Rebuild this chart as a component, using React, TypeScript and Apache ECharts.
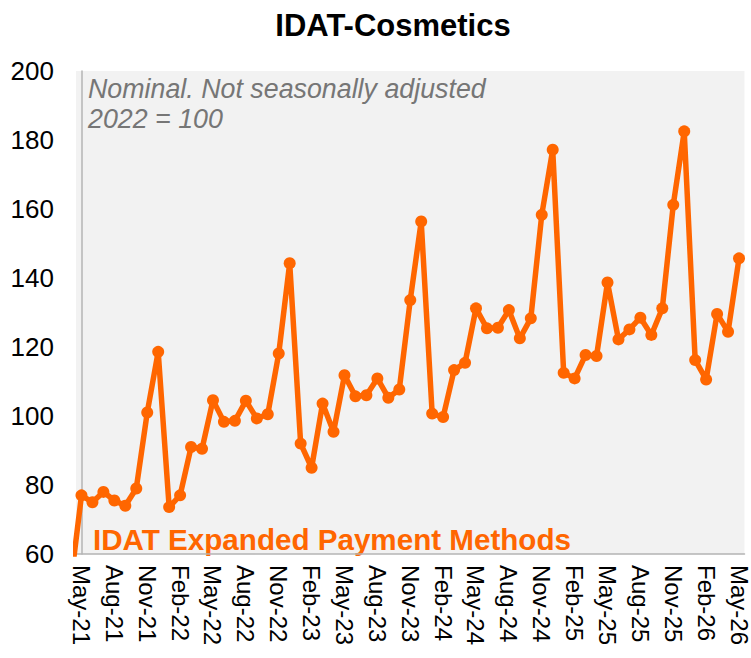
import React, { useEffect, useRef } from "react";
import * as echarts from "echarts";

const months = [
  "May-21","Jun-21","Jul-21","Aug-21","Sep-21","Oct-21","Nov-21","Dec-21",
  "Jan-22","Feb-22","Mar-22","Apr-22","May-22","Jun-22","Jul-22","Aug-22","Sep-22","Oct-22","Nov-22","Dec-22",
  "Jan-23","Feb-23","Mar-23","Apr-23","May-23","Jun-23","Jul-23","Aug-23","Sep-23","Oct-23","Nov-23","Dec-23",
  "Jan-24","Feb-24","Mar-24","Apr-24","May-24","Jun-24","Jul-24","Aug-24","Sep-24","Oct-24","Nov-24","Dec-24",
  "Jan-25","Feb-25","Mar-25","Apr-25","May-25","Jun-25","Jul-25","Aug-25","Sep-25","Oct-25","Nov-25","Dec-25",
  "Jan-26","Feb-26","Mar-26","Apr-26","May-26",
];

// Apr-21 value lies below the axis range; only its clipped segment is visible
const priorMonthValue = 51;

const values = [
  77, 75, 78, 75.5, 74, 79, 101, 118.6,
  73.6, 77, 91, 90.5, 104.6, 98.3, 98.6, 104.4, 99.3, 100.5, 118.1, 144.3,
  92, 85, 103.6, 95.4, 111.8, 105.7, 106, 110.9, 105.3, 107.7, 133.6, 156.4,
  100.7, 99.7, 113.3, 115.4, 131.2, 125.4, 125.6, 130.7, 122.5, 128.3, 158.3, 177.2,
  112.5, 110.9, 117.7, 117.4, 138.7, 122.2, 125.1, 128.5, 123.5, 131.2, 161.2, 182.5,
  116.2, 110.6, 129.6, 124.4, 145.7,
];

const yTicks = { min: 60, max: 200, interval: 20 };

const title = "IDAT-Cosmetics";
const noteLines = ["Nominal. Not seasonally adjusted", "2022 = 100"];
const seriesLabel = "IDAT Expanded Payment Methods";

const FONT = "'Liberation Sans', Arial, Helvetica, sans-serif";
const ORANGE = "#ff6600";

export default function App() {
  const ref = useRef<HTMLDivElement>(null);

  useEffect(() => {
    if (!ref.current) return;
    const chart = echarts.init(ref.current, null, { renderer: "svg" });
    const seriesData: [number, number][] = [[-1, priorMonthValue]];
    values.forEach((v, i) => seriesData.push([i, v]));

    chart.setOption({
      animation: false,
      backgroundColor: "#ffffff",
      textStyle: { fontFamily: FONT },
      grid: {
        left: 76,
        right: 5,
        top: 71,
        bottom: 104,
        show: true,
        backgroundColor: "#f2f2f2",
        borderWidth: 0,
      },
      xAxis: [
        {
          type: "category",
          data: months,
          boundaryGap: true,
          axisLine: { show: true, lineStyle: { color: "#b4b4b4", width: 1.5 } },
          axisTick: { show: false },
          splitLine: { show: false },
          axisLabel: {
            interval: 2,
            rotate: -90,
            margin: 11,
            fontSize: 24,
            color: "#000000",
            fontFamily: FONT,
          },
        },
        {
          type: "value",
          min: -0.5,
          max: 60.5,
          show: false,
          splitLine: { show: false },
        },
      ],
      yAxis: {
        type: "value",
        min: yTicks.min,
        max: yTicks.max,
        interval: yTicks.interval,
        axisLine: { show: true, lineStyle: { color: "#b4b4b4", width: 1.5 } },
        axisTick: { show: false },
        splitLine: { show: false },
        axisLabel: {
          margin: 22,
          fontSize: 26,
          color: "#000000",
          fontFamily: FONT,
        },
      },
      series: [
        {
          type: "line",
          xAxisIndex: 1,
          data: seriesData,
          clip: true,
          symbol: "circle",
          symbolSize: 12,
          showAllSymbol: true,
          lineStyle: { color: ORANGE, width: 5.5 },
          itemStyle: { color: ORANGE },
          emphasis: { disabled: true },
        },
      ],
      graphic: [
        {
          type: "text",
          x: 393,
          y: 25,
          style: {
            text: title,
            fontFamily: FONT,
            fontSize: 31,
            fontWeight: "bold",
            fill: "#000000",
            align: "center",
            verticalAlign: "middle",
          },
        },
        {
          type: "text",
          x: 88,
          y: 89,
          style: {
            text: noteLines[0],
            fontFamily: FONT,
            fontSize: 26.8,
            fontStyle: "italic",
            fill: "#767676",
            align: "left",
            verticalAlign: "middle",
          },
        },
        {
          type: "text",
          x: 88,
          y: 119,
          style: {
            text: noteLines[1],
            fontFamily: FONT,
            fontSize: 26.8,
            fontStyle: "italic",
            fill: "#767676",
            align: "left",
            verticalAlign: "middle",
          },
        },
        {
          type: "text",
          x: 93,
          y: 539,
          style: {
            text: seriesLabel,
            fontFamily: FONT,
            fontSize: 29.6,
            fontWeight: "bold",
            fill: ORANGE,
            align: "left",
            verticalAlign: "middle",
          },
        },
      ],
    });

    return () => chart.dispose();
  }, []);

  return (
    <div
      ref={ref}
      style={{ position: "absolute", left: 0, top: 0, width: 751, height: 658 }}
    />
  );
}
